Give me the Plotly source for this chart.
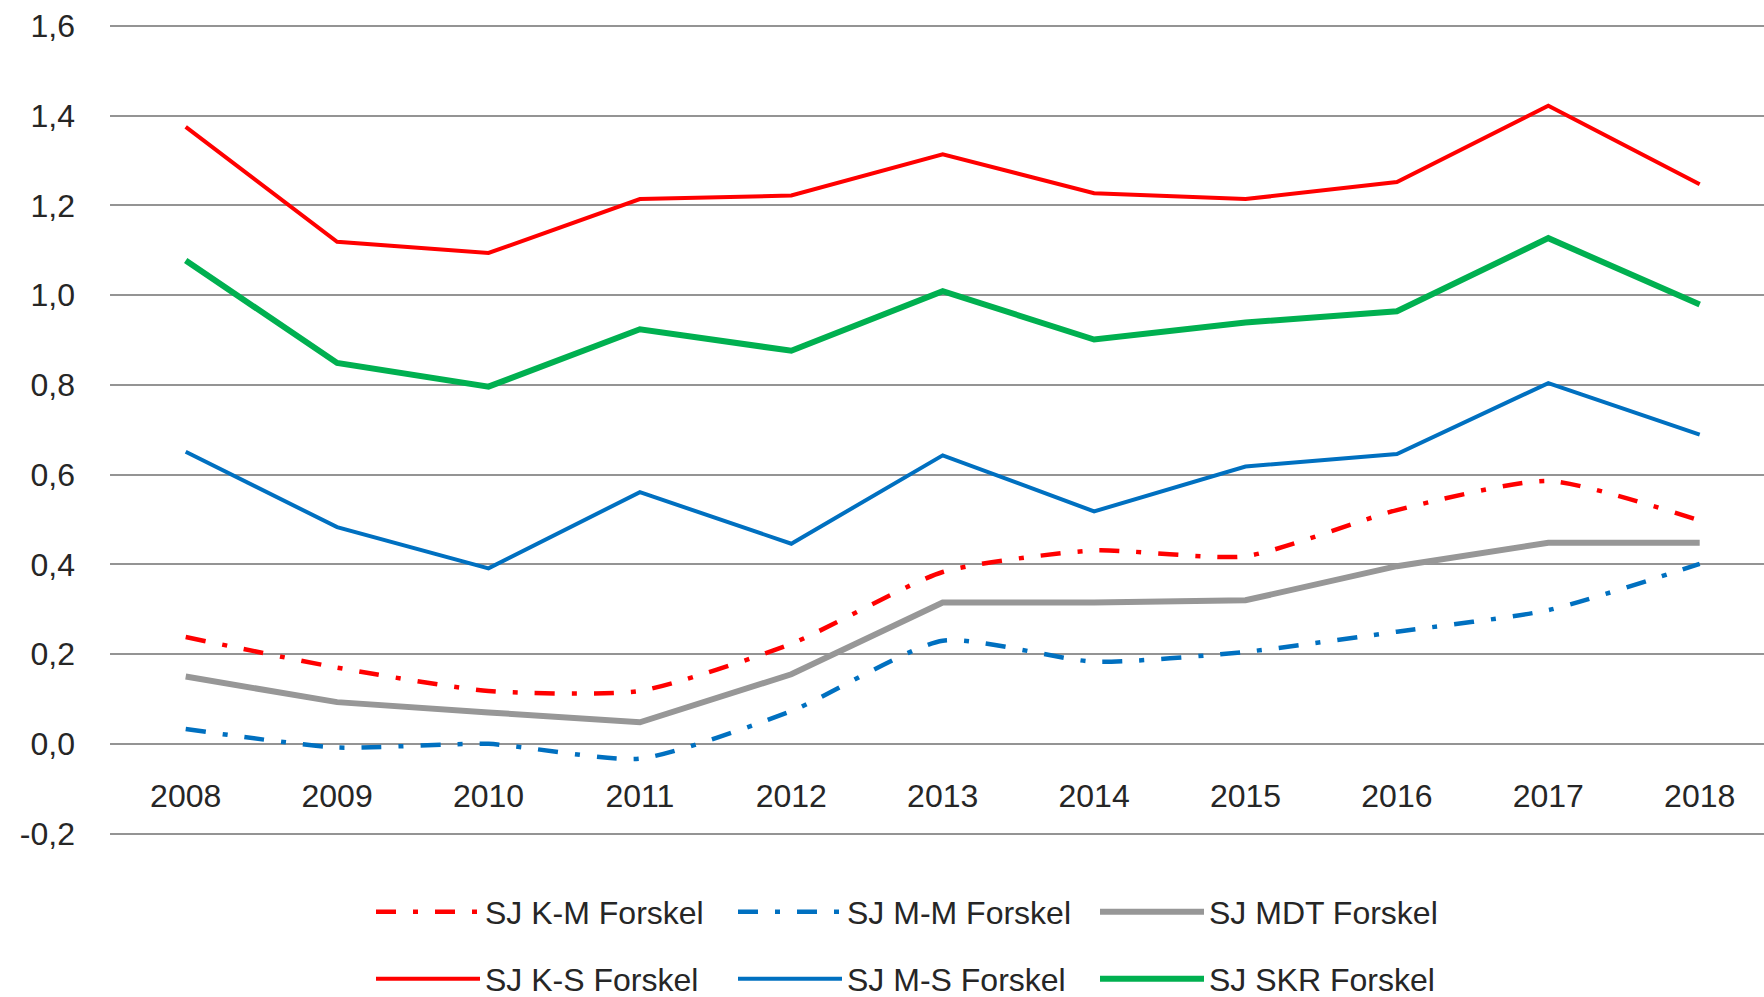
import plotly.graph_objects as go

years = ["2008", "2009", "2010", "2011", "2012", "2013", "2014", "2015", "2016", "2017", "2018"]

sj_km = [0.238, 0.170, 0.118, 0.118, 0.223, 0.383, 0.431, 0.418, 0.521, 0.586, 0.498]
sj_mm = [0.033, -0.008, 0.000, -0.033, 0.073, 0.230, 0.183, 0.205, 0.250, 0.298, 0.401]
sj_mdt = [0.150, 0.093, 0.070, 0.048, 0.155, 0.315, 0.315, 0.320, 0.396, 0.448, 0.448]
sj_ks = [1.375, 1.119, 1.094, 1.214, 1.222, 1.314, 1.227, 1.214, 1.252, 1.422, 1.247]
sj_ms = [0.651, 0.483, 0.391, 0.561, 0.446, 0.643, 0.518, 0.618, 0.646, 0.804, 0.689]
sj_skr = [1.077, 0.849, 0.796, 0.924, 0.876, 1.009, 0.901, 0.939, 0.964, 1.127, 0.979]

y_tickvals = [-0.2, 0.0, 0.2, 0.4, 0.6, 0.8, 1.0, 1.2, 1.4, 1.6]
y_ticktext = ["-0,2", "0,0", "0,2", "0,4", "0,6", "0,8", "1,0", "1,2", "1,4", "1,6"]

names = ["SJ K-M Forskel", "SJ M-M Forskel", "SJ MDT Forskel",
         "SJ K-S Forskel", "SJ M-S Forskel", "SJ SKR Forskel"]

RED = "#FF0000"
BLUE = "#0070C0"
GREEN = "#00B050"
GRAY = "#979797"
DASHDOT = "20px,17px,5px,17px"

W, H = 1764, 997
L, R, T, B = 110, 0, 24, 161
plot_w = W - L - R
plot_h = H - T - B
Y_LO, Y_HI = -0.2053, 1.6042

fig = go.Figure()

fig.add_trace(go.Scatter(x=years, y=sj_ks, name=names[3], mode="lines",
                         line=dict(color=RED, width=4), legend="legend2", legendrank=1))
fig.add_trace(go.Scatter(x=years, y=sj_skr, name=names[5], mode="lines",
                         line=dict(color=GREEN, width=6), legend="legend2", legendrank=3))
fig.add_trace(go.Scatter(x=years, y=sj_ms, name=names[4], mode="lines",
                         line=dict(color=BLUE, width=4), legend="legend2", legendrank=2))
fig.add_trace(go.Scatter(x=years, y=sj_mdt, name=names[2], mode="lines",
                         line=dict(color=GRAY, width=6), legend="legend", legendrank=3))
fig.add_trace(go.Scatter(x=years, y=sj_km, name=names[0], mode="lines",
                         line=dict(color=RED, width=4.5, dash=DASHDOT, shape="spline", smoothing=0.6),
                         legend="legend", legendrank=1))
fig.add_trace(go.Scatter(x=years, y=sj_mm, name=names[1], mode="lines",
                         line=dict(color=BLUE, width=4.5, dash=DASHDOT, shape="spline", smoothing=0.6),
                         legend="legend", legendrank=2))

font = dict(family="Liberation Sans, Arial, sans-serif", size=32, color="#262626")

def px_x(px):
    return (px - L) / plot_w

def px_y(py):
    return (H - B - py) / plot_h

legend_common = dict(orientation="h", xanchor="left", yanchor="middle",
                     font=font, itemwidth=104, entrywidth=243, entrywidthmode="pixels",
                     bgcolor="rgba(0,0,0,0)", traceorder="normal")

fig.update_layout(
    width=W, height=H,
    margin=dict(l=L, r=R, t=T, b=B, autoexpand=False),
    paper_bgcolor="white", plot_bgcolor="white",
    font=font,
    xaxis=dict(
        type="category",
        range=[-0.5, -0.5 + plot_w / 151.4],
        anchor="free", position=(0 - Y_LO) / (Y_HI - Y_LO),
        showgrid=False, showline=False, zeroline=False,
        ticks="", ticklabelstandoff=30,
        tickfont=font,
    ),
    yaxis=dict(
        range=[Y_LO, Y_HI],
        tickmode="array", tickvals=y_tickvals, ticktext=y_ticktext,
        showgrid=True, gridcolor="#949494", gridwidth=1.5,
        zeroline=False, showline=False,
        ticks="", ticklabelstandoff=34,
        tickfont=font,
    ),
    legend=dict(x=px_x(371), y=px_y(912), **legend_common),
    legend2=dict(x=px_x(371), y=px_y(979), **legend_common),
    showlegend=True,
)

fig.write_html("out.html", config={"displayModeBar": False},
               post_script="document.body.style.margin='0';document.body.style.overflow='hidden';")
